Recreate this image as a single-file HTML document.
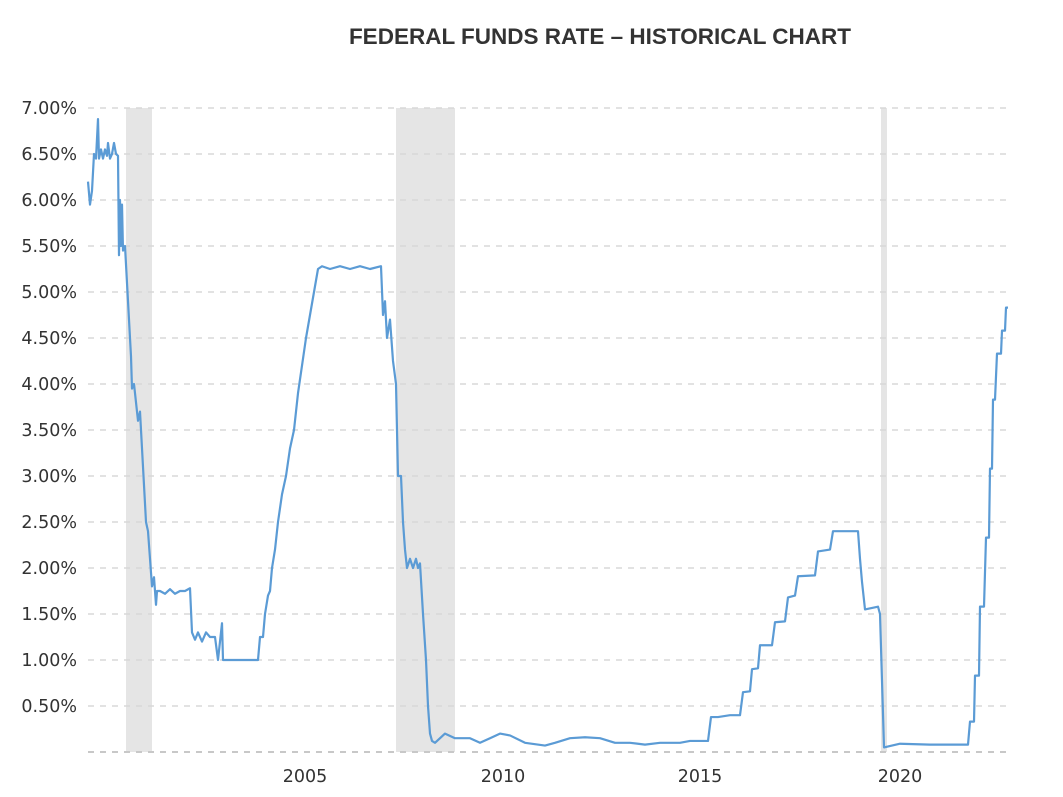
<!DOCTYPE html>
<html><head><meta charset="utf-8"><style>
html,body{margin:0;padding:0;background:#fff;width:1063px;height:797px;overflow:hidden}
</style></head><body>
<svg width="1063" height="797" xmlns="http://www.w3.org/2000/svg" font-family="'DejaVu Sans','Liberation Sans',sans-serif">
<text x="600" y="44" text-anchor="middle" font-family="'Liberation Sans',sans-serif" font-weight="bold" font-size="22.5" fill="#333">FEDERAL FUNDS RATE – HISTORICAL CHART</text>
<g fill="#e5e5e5">
<rect x="126" y="108" width="26" height="644"/>
<rect x="396" y="108" width="59" height="644"/>
<rect x="881" y="108" width="6" height="644"/>
</g>
<g stroke="#d8d8d8" stroke-width="1.5" stroke-dasharray="6,6">
<line x1="88" x2="1008" y1="108" y2="108"/><line x1="88" x2="1008" y1="154" y2="154"/>
<line x1="88" x2="1008" y1="200" y2="200"/><line x1="88" x2="1008" y1="246" y2="246"/>
<line x1="88" x2="1008" y1="292" y2="292"/><line x1="88" x2="1008" y1="338" y2="338"/>
<line x1="88" x2="1008" y1="384" y2="384"/><line x1="88" x2="1008" y1="430" y2="430"/>
<line x1="88" x2="1008" y1="476" y2="476"/><line x1="88" x2="1008" y1="522" y2="522"/>
<line x1="88" x2="1008" y1="568" y2="568"/><line x1="88" x2="1008" y1="614" y2="614"/>
<line x1="88" x2="1008" y1="660" y2="660"/><line x1="88" x2="1008" y1="706" y2="706"/>
</g>
<line x1="88" x2="1008" y1="752" y2="752" stroke="#c8c8c8" stroke-width="2" stroke-dasharray="6,6"/>
<g font-size="17.5" fill="#333" text-anchor="end">
<text x="77" y="114">7.00%</text><text x="77" y="160">6.50%</text><text x="77" y="206">6.00%</text>
<text x="77" y="252">5.50%</text><text x="77" y="298">5.00%</text><text x="77" y="344">4.50%</text>
<text x="77" y="390">4.00%</text><text x="77" y="436">3.50%</text><text x="77" y="482">3.00%</text>
<text x="77" y="528">2.50%</text><text x="77" y="574">2.00%</text><text x="77" y="620">1.50%</text>
<text x="77" y="666">1.00%</text><text x="77" y="712">0.50%</text>
</g>
<g font-size="17.5" fill="#333" text-anchor="middle">
<text x="305" y="782">2005</text><text x="503" y="782">2010</text><text x="700" y="782">2015</text><text x="900" y="782">2020</text>
</g>
<polyline fill="none" stroke="#5b9bd5" stroke-width="2.2" stroke-linejoin="round" transform="translate(0,752) scale(1,-92)" vector-effect="non-scaling-stroke" points="
88,6.2 90,5.95 92,6.1 94,6.5 96,6.45 98,6.88 99,6.45 101,6.55 103,6.45 105,6.55 107,6.48 108,6.62 110,6.45 112,6.5 114,6.62 116,6.5 118,6.48 119,5.4 120,6.0 121,5.5 122,5.95 123,5.45 125,5.5 127,5.1 128,4.9 130,4.5 131,4.3 132,3.95 134,4.0 136,3.8 138,3.6 140,3.7 142,3.3 144,2.9 146,2.5 148,2.4 150,2.1 152,1.8 154,1.9 156,1.6 157,1.75 160,1.75 165,1.72 170,1.77 175,1.72 180,1.75 185,1.75 190,1.78 192,1.3 195,1.22 198,1.3 202,1.2 206,1.3 210,1.25 215,1.25 218,1.0 222,1.4 223,1.0 230,1.0 240,1.0 255,1.0 258,1.0 260,1.25 263,1.25 265,1.5 268,1.7 270,1.75 272,2.0 275,2.2 278,2.5 282,2.8 286,3.0 290,3.3 294,3.5 298,3.9 302,4.2 306,4.5 310,4.75 314,5.0 318,5.25 322,5.28 330,5.25 340,5.28 350,5.25 360,5.28 370,5.25 381,5.28 383,4.75 385,4.9 387,4.5 390,4.7 393,4.25 396,4.0 398,3.0 401,3.0 403,2.5 405,2.2 407,2.0 410,2.1 413,2.0 416,2.1 418,2.0 420,2.05 423,1.5 426,1.0 428,0.5 430,0.2 432,0.12 435,0.1 440,0.15 445,0.2 455,0.15 470,0.15 480,0.1 490,0.15 500,0.2 510,0.18 525,0.1 545,0.07 555,0.1 570,0.15 585,0.16 600,0.15 615,0.1 630,0.1 645,0.08 660,0.1 680,0.1 690,0.12 708,0.12 711,0.38 718,0.38 730,0.4 740,0.4 743,0.65 750,0.66 752,0.9 758,0.91 760,1.16 772,1.16 775,1.41 785,1.42 788,1.68 795,1.7 798,1.91 815,1.92 818,2.18 830,2.2 833,2.4 858,2.4 860,2.1 862,1.85 865,1.55 878,1.58 880,1.5 884,0.05 900,0.09 930,0.08 968,0.08 970,0.33 974,0.33 975,0.83 979,0.83 980,1.58 984,1.58 986,2.33 989,2.33 990,3.08 992,3.08 993,3.83 995,3.83 997,4.33 1001,4.33 1002,4.58 1005,4.58 1006,4.83 1008,4.83"/>
</svg>
</body></html>
